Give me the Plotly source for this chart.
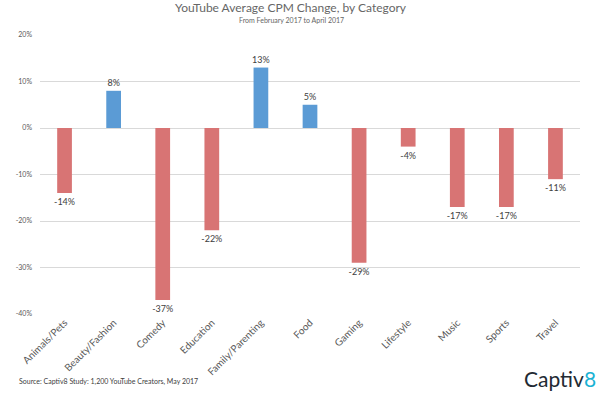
import plotly.graph_objects as go

categories = ["Animals/Pets", "Beauty/Fashion", "Comedy", "Education", "Family/Parenting",
              "Food", "Gaming", "Lifestyle", "Music", "Sports", "Travel"]
values = [-14, 8, -37, -22, 13, 5, -29, -4, -17, -17, -11]
tick_vals = [-40, -30, -20, -10, 0, 10, 20]
tick_text = ["-40%", "-30%", "-20%", "-10%", "0%", "10%", "20%"]

colors = ["#5b9bd5" if v > 0 else "#d87474" for v in values]
labels = [f"{v}%" for v in values]

FONT = "Lato"

fig = go.Figure(go.Bar(
    x=categories, y=values, marker=dict(color=colors, line=dict(width=0)),
    width=0.3, text=labels, textposition="outside", cliponaxis=False,
    constraintext="none",
    textfont=dict(family=FONT, size=9, color="#404040"),
))

fig.update_layout(
    width=600, height=405, paper_bgcolor="white", plot_bgcolor="white",
    margin=dict(l=40, r=20, t=35, b=91),
    showlegend=False,
    font=dict(family=FONT, color="#595959"),
    xaxis=dict(tickangle=-45, tickfont=dict(family=FONT, size=10, color="#595959"),
               showgrid=False, showline=False, ticks=""),
    yaxis=dict(range=[-40, 20], tickvals=tick_vals, ticktext=tick_text,
               tickfont=dict(family=FONT, size=7, color="#595959"),
               showgrid=True, gridcolor="#d9d9d9", gridwidth=1,
               zeroline=True, zerolinecolor="#d9d9d9", zerolinewidth=1,
               showline=False, ticks="", ticklabelstandoff=7),
    annotations=[
        dict(text="YouTube Average CPM Change, by Category", xref="paper", yref="paper",
             x=0.5, y=1, xshift=-19, yshift=27.5, xanchor="center", yanchor="middle",
             showarrow=False, font=dict(family=FONT, size=12, color="#666666")),
        dict(text="From February 2017 to April 2017", xref="paper", yref="paper",
             x=0.5, y=1, xshift=-19, yshift=15, xanchor="center", yanchor="middle",
             showarrow=False, font=dict(family=FONT, size=7, color="#666666")),
        dict(text="Source: Captiv8 Study: 1,200 YouTube Creators, May 2017",
             xref="paper", yref="paper", x=0, xshift=-23, y=0, yshift=-67,
             xanchor="left", yanchor="middle", showarrow=False,
             font=dict(family=FONT, size=7, color="#404040")),
        dict(text="Captiv<span style='color:#1ab2d4'>8</span>",
             xref="paper", yref="paper", x=1, xshift=18, y=0, yshift=-64,
             xanchor="right", yanchor="middle", showarrow=False,
             font=dict(family=FONT, size=21, color="#222a33")),
    ],
)

fig.write_html("out.html", config={"displayModeBar": False},
               post_script="document.body.style.margin='0';")
